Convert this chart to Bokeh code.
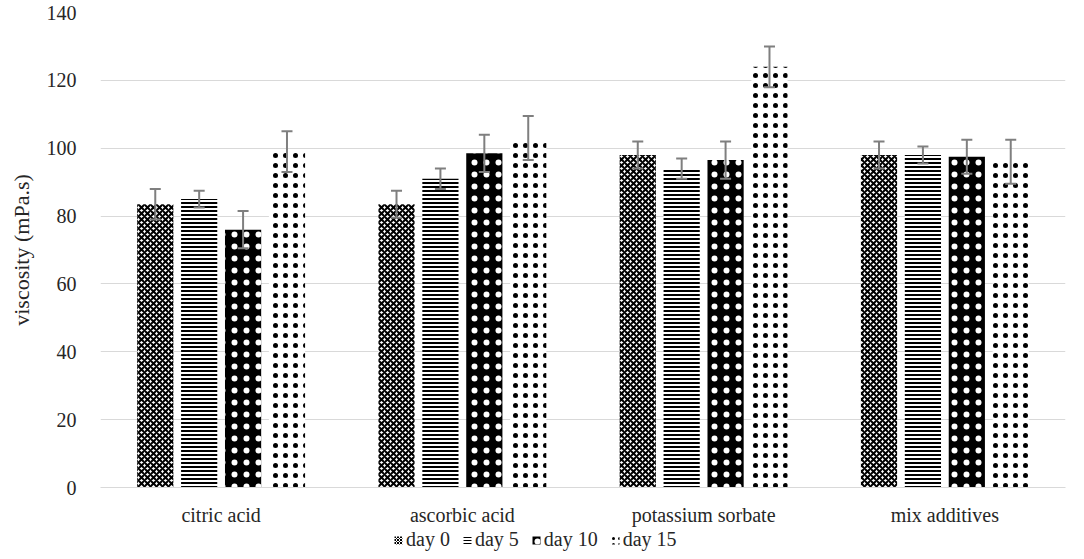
from bokeh.plotting import figure
from bokeh.layouts import column
from bokeh.models import (ColumnDataSource, FactorRange, Whisker, Legend, LegendItem, Range1d,
                          SingleIntervalTicker)
from bokeh.transform import dodge
from bokeh.embed import file_html
from bokeh.resources import INLINE

categories = ["citric acid", "ascorbic acid", "potassium sorbate", "mix additives"]
series = ["day 0", "day 5", "day 10", "day 15"]
day0 = [83.5, 83.5, 98.0, 98.0]
day0_err = [4.5, 4.0, 4.0, 4.0]
day5 = [85.0, 91.0, 94.0, 98.0]
day5_err = [2.5, 3.0, 3.0, 2.5]
day10 = [76.0, 98.5, 96.5, 97.5]
day10_err = [5.5, 5.5, 5.5, 5.0]
day15 = [99.0, 103.0, 124.0, 96.0]
day15_err = [6.0, 6.5, 6.0, 6.5]

values = [day0, day5, day10, day15]
errors = [day0_err, day5_err, day10_err, day15_err]
offsets = [-0.273, -0.091, 0.091, 0.273]
styles = [
    dict(fill_color="white", hatch_pattern="diagonal_cross", hatch_color="black", hatch_scale=6, hatch_weight=2),
    dict(fill_color="white", hatch_pattern="horizontal_line", hatch_color="black", hatch_scale=4, hatch_weight=2),
    dict(fill_color="black", hatch_pattern="dot", hatch_color="white", hatch_scale=12, hatch_weight=0.3),
    dict(fill_color="white", hatch_pattern="dot", hatch_color="black", hatch_scale=10, hatch_weight=3.5),
]
legend_styles = [
    dict(fill_color="white", hatch_pattern="diagonal_cross", hatch_color="black", hatch_scale=3, hatch_weight=1),
    dict(fill_color="white", hatch_pattern="horizontal_line", hatch_color="black", hatch_scale=3, hatch_weight=1),
    dict(fill_color="black", hatch_pattern="dot", hatch_color="white", hatch_scale=12, hatch_weight=0.3),
    dict(fill_color="white", hatch_pattern="dot", hatch_color="black", hatch_scale=6, hatch_weight=2),
]

FONT = "Liberation Serif"
TXT = "#262626"

p = figure(x_range=FactorRange(*categories), y_range=Range1d(0, 140),
           width=1076, height=528, output_backend="svg", toolbar_location=None,
           min_border_left=100, min_border_right=11, min_border_top=12, min_border_bottom=40)

p.outline_line_color = None
p.background_fill_color = "white"

for i, name in enumerate(series):
    src = ColumnDataSource(dict(cat=categories, val=values[i],
                                lo=[v - e for v, e in zip(values[i], errors[i])],
                                hi=[v + e for v, e in zip(values[i], errors[i])]))
    p.vbar(x=dodge("cat", offsets[i], range=p.x_range), top="val", width=0.15,
           source=src, line_color=None, **styles[i])
    w = Whisker(base=dodge("cat", offsets[i], range=p.x_range), upper="hi", lower="lo",
                source=src, line_color="#7f7f7f", line_width=2, level="overlay")
    for h in (w.upper_head, w.lower_head):
        h.size = 11
        h.line_color = "#7f7f7f"
        h.line_width = 2
    p.add_layout(w)

p.yaxis.ticker = SingleIntervalTicker(interval=20)
p.yaxis.axis_label = "viscosity (mPa.s)"
p.yaxis.axis_label_text_font = FONT
p.yaxis.axis_label_text_font_style = "normal"
p.yaxis.axis_label_text_font_size = "22px"
p.yaxis.axis_label_text_color = TXT
p.yaxis.axis_label_standoff = 10
p.yaxis.major_label_text_font = FONT
p.yaxis.major_label_text_font_size = "20px"
p.yaxis.major_label_text_color = TXT
p.yaxis.axis_line_color = None
p.yaxis.major_tick_line_color = None
p.yaxis.minor_tick_line_color = None
p.yaxis.major_label_standoff = 18

p.xaxis.major_label_text_font = FONT
p.xaxis.major_label_text_font_size = "20px"
p.xaxis.major_label_text_color = TXT
p.xaxis.axis_line_color = "#d9d9d9"
p.xaxis.axis_line_width = 1
p.xaxis.major_tick_line_color = None
p.xaxis.minor_tick_line_color = None
p.xaxis.major_label_standoff = 10

p.xgrid.grid_line_color = None
p.ygrid.grid_line_color = "#d9d9d9"
p.ygrid.grid_line_width = 1

# legend strip below the chart (its renderers sit outside the strip's visible range)
lg = figure(width=1076, height=23, output_backend="svg", toolbar_location=None,
            x_range=Range1d(0, 1), y_range=Range1d(0, 1),
            min_border=0, x_axis_type=None, y_axis_type=None)
lg.outline_line_color = None
lg.xgrid.visible = False
lg.ygrid.visible = False
items = []
for i, name in enumerate(series):
    r = lg.vbar(x=[-5], top=[-5], bottom=[-6], width=0.1, line_color=None, **legend_styles[i])
    items.append(LegendItem(label=name, renderers=[r]))
legend = Legend(items=items, orientation="horizontal", location=(293, 0),
                label_text_font=FONT, label_text_font_size="20px", label_text_color=TXT,
                glyph_width=10, glyph_height=10, spacing=12, label_standoff=3,
                label_height=20,
                border_line_color=None, background_fill_alpha=0, padding=0, margin=0)
lg.add_layout(legend)

layout = column(p, lg, spacing=0)
open("out.html", "w").write(file_html(layout, INLINE))
